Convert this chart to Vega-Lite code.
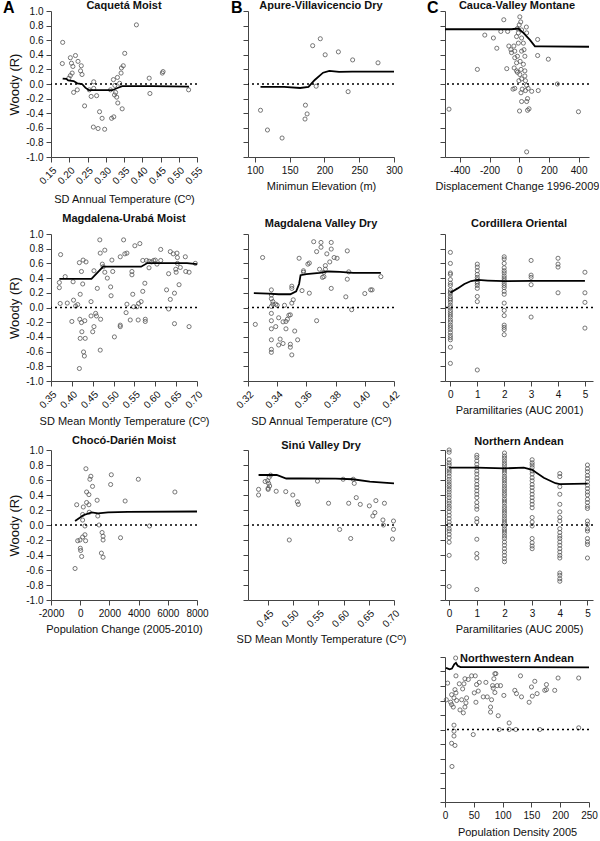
{
"$schema": "https://vega.github.io/schema/vega-lite/v6.json",
"padding": {"left": 3, "top": 0, "right": 0, "bottom": 0},
"config": {
 "font": "Liberation Sans",
 "view": {"stroke": null},
 "axis": {"grid": false, "domainColor": "#444", "tickColor": "#444", "labelColor": "#111", "titleColor": "#111", "labelFontSize": 10, "titleFontSize": 11, "titleFontWeight": "normal", "tickSize": 5, "labelPadding": 3, "titlePadding": 5, "labelFlush": false, "labelOverlap": false, "labelBound": false, "labelExpr": "replace(datum.label, '−', '-')"},
 "title": {"fontSize": 11, "fontWeight": "bold", "anchor": "middle", "frame": "group", "offset": 2, "color": "#111"},
 "point": {"shape": "circle", "filled": false, "size": 17, "stroke": "#555", "strokeWidth": 0.8, "opacity": 1},
 "line": {"color": "black", "strokeWidth": 1.8},
 "rule": {"color": "black", "strokeDash": [2, 3], "strokeWidth": 1.5}
},
"datasets": {
 "a1": [{"x":0.182,"y":0.57},{"x":0.181,"y":0.28},{"x":0.203,"y":0.36},{"x":0.217,"y":0.39},{"x":0.206,"y":0.285},{"x":0.210,"y":0.24},{"x":0.208,"y":0.15},{"x":0.203,"y":0.115},{"x":0.199,"y":0.08},{"x":0.212,"y":-0.115},{"x":0.222,"y":-0.08},{"x":0.224,"y":0.31},{"x":0.233,"y":0.25},{"x":0.231,"y":0.18},{"x":0.235,"y":0.13},{"x":0.242,"y":-0.30},{"x":0.255,"y":-0.08},{"x":0.260,"y":-0.17},{"x":0.267,"y":0.03},{"x":0.267,"y":-0.06},{"x":0.275,"y":-0.16},{"x":0.283,"y":-0.38},{"x":0.290,"y":-0.47},{"x":0.266,"y":-0.59},{"x":0.279,"y":-0.61},{"x":0.297,"y":-0.62},{"x":0.313,"y":-0.08},{"x":0.316,"y":-0.47},{"x":0.322,"y":-0.45},{"x":0.321,"y":0.06},{"x":0.325,"y":-0.02},{"x":0.324,"y":-0.15},{"x":0.330,"y":-0.18},{"x":0.333,"y":-0.26},{"x":0.332,"y":0.09},{"x":0.338,"y":0.01},{"x":0.342,"y":0.15},{"x":0.343,"y":0.22},{"x":0.348,"y":0.25},{"x":0.352,"y":0.42},{"x":0.345,"y":-0.34},{"x":0.327,"y":-0.115},{"x":0.384,"y":0.81},{"x":0.419,"y":0.08},{"x":0.421,"y":-0.13},{"x":0.457,"y":0.17},{"x":0.455,"y":0.15},{"x":0.527,"y":-0.08}],
 "a1f": [{"x":0.182,"y":0.075},{"x":0.192,"y":0.07},{"x":0.197,"y":0.05},{"x":0.212,"y":0.04},{"x":0.222,"y":0.01},{"x":0.235,"y":0.0},{"x":0.244,"y":-0.05},{"x":0.254,"y":-0.085},{"x":0.290,"y":-0.085},{"x":0.318,"y":-0.085},{"x":0.332,"y":-0.055},{"x":0.345,"y":-0.03},{"x":0.382,"y":-0.03},{"x":0.428,"y":-0.03},{"x":0.528,"y":-0.035}],
 "b1": [{"x":108,"y":-0.36},{"x":118,"y":-0.63},{"x":139,"y":-0.74},{"x":172.6,"y":-0.29},{"x":175,"y":-0.41},{"x":172,"y":-0.48},{"x":183,"y":0.525},{"x":194,"y":0.62},{"x":201,"y":0.40},{"x":188,"y":-0.03},{"x":220,"y":0.44},{"x":240.5,"y":0.33},{"x":234,"y":-0.105},{"x":277,"y":0.29}],
 "b1f": [{"x":108,"y":-0.04},{"x":142,"y":-0.04},{"x":165,"y":-0.055},{"x":177,"y":-0.04},{"x":186,"y":0.055},{"x":198,"y":0.155},{"x":207,"y":0.18},{"x":221,"y":0.165},{"x":240,"y":0.17},{"x":300,"y":0.17}],
 "c1": [{"x":-473,"y":-0.345},{"x":-282,"y":0.20},{"x":-232,"y":0.67},{"x":-174,"y":0.63},{"x":-151,"y":0.49},{"x":-124,"y":0.72},{"x":-104,"y":0.88},{"x":-78,"y":0.72},{"x":-84,"y":0.21},{"x":-42,"y":-0.07},{"x":-30,"y":-0.06},{"x":-70,"y":0.52},{"x":-56,"y":0.47},{"x":-52,"y":0.43},{"x":-36,"y":0.52},{"x":-30,"y":0.36},{"x":-18,"y":0.18},{"x":-12,"y":0.16},{"x":-2,"y":0.045},{"x":4,"y":0.92},{"x":10,"y":0.85},{"x":0,"y":0.81},{"x":-12,"y":0.76},{"x":16,"y":0.74},{"x":-18,"y":0.65},{"x":16,"y":0.63},{"x":-6,"y":0.56},{"x":28,"y":0.56},{"x":-30,"y":0.45},{"x":16,"y":0.45},{"x":-12,"y":0.38},{"x":38,"y":0.38},{"x":6,"y":0.31},{"x":28,"y":0.27},{"x":12,"y":0.20},{"x":38,"y":0.18},{"x":4,"y":0.13},{"x":38,"y":0.11},{"x":16,"y":0.07},{"x":42,"y":0.045},{"x":50,"y":-0.02},{"x":60,"y":-0.06},{"x":42,"y":-0.09},{"x":84,"y":-0.10},{"x":12,"y":-0.12},{"x":56,"y":-0.20},{"x":50,"y":-0.24},{"x":16,"y":-0.24},{"x":66,"y":-0.34},{"x":56,"y":-0.36},{"x":2,"y":-0.37},{"x":50,"y":-0.93},{"x":128,"y":-0.09},{"x":124,"y":0.61},{"x":124,"y":0.39},{"x":196,"y":0.34},{"x":257,"y":0.0},{"x":399,"y":-0.38},{"x":48,"y":0.78},{"x":50,"y":0.70},{"x":-6,"y":0.70},{"x":20,"y":-0.07},{"x":-18,"y":0.29},{"x":32,"y":0.47},{"x":-34,"y":0.22}],
 "c1f": [{"x":-500,"y":0.75},{"x":-52,"y":0.75},{"x":-6,"y":0.76},{"x":28,"y":0.70},{"x":72,"y":0.605},{"x":106,"y":0.515},{"x":150,"y":0.515},{"x":470,"y":0.51}],
 "a2": [{"x":0.373,"y":0.72},{"x":0.370,"y":0.34},{"x":0.370,"y":0.27},{"x":0.372,"y":0.055},{"x":0.384,"y":0.42},{"x":0.389,"y":0.06},{"x":0.400,"y":-0.19},{"x":0.403,"y":0.35},{"x":0.404,"y":0.10},{"x":0.409,"y":0.02},{"x":0.414,"y":0.04},{"x":0.418,"y":0.61},{"x":0.427,"y":0.645},{"x":0.434,"y":0.62},{"x":0.423,"y":0.49},{"x":0.420,"y":0.18},{"x":0.426,"y":0.32},{"x":0.419,"y":-0.16},{"x":0.423,"y":-0.205},{"x":0.431,"y":-0.18},{"x":0.420,"y":-0.42},{"x":0.424,"y":-0.33},{"x":0.432,"y":-0.42},{"x":0.428,"y":-0.605},{"x":0.430,"y":-0.66},{"x":0.418,"y":-0.83},{"x":0.446,"y":0.08},{"x":0.446,"y":-0.115},{"x":0.450,"y":-0.33},{"x":0.453,"y":-0.26},{"x":0.457,"y":-0.08},{"x":0.459,"y":-0.115},{"x":0.453,"y":0.50},{"x":0.461,"y":0.26},{"x":0.467,"y":0.92},{"x":0.468,"y":0.74},{"x":0.479,"y":0.78},{"x":0.469,"y":-0.16},{"x":0.468,"y":-0.58},{"x":0.473,"y":0.59},{"x":0.475,"y":0.555},{"x":0.479,"y":0.48},{"x":0.485,"y":0.40},{"x":0.493,"y":0.28},{"x":0.494,"y":0.16},{"x":0.496,"y":0.645},{"x":0.498,"y":0.49},{"x":0.502,"y":-0.40},{"x":0.516,"y":0.69},{"x":0.516,"y":-0.24},{"x":0.516,"y":-0.26},{"x":0.524,"y":0.92},{"x":0.527,"y":0.73},{"x":0.532,"y":0.74},{"x":0.530,"y":-0.07},{"x":0.532,"y":0.045},{"x":0.540,"y":-0.17},{"x":0.544,"y":0.49},{"x":0.544,"y":0.445},{"x":0.546,"y":0.18},{"x":0.548,"y":0.01},{"x":0.551,"y":0.84},{"x":0.556,"y":0.01},{"x":0.559,"y":-0.17},{"x":0.563,"y":0.87},{"x":0.560,"y":0.055},{"x":0.566,"y":0.08},{"x":0.570,"y":0.22},{"x":0.570,"y":0.64},{"x":0.575,"y":0.33},{"x":0.576,"y":-0.16},{"x":0.576,"y":-0.19},{"x":0.579,"y":0.64},{"x":0.585,"y":0.54},{"x":0.585,"y":0.63},{"x":0.591,"y":0.62},{"x":0.596,"y":0.64},{"x":0.600,"y":0.645},{"x":0.604,"y":0.59},{"x":0.613,"y":0.79},{"x":0.613,"y":0.64},{"x":0.627,"y":0.24},{"x":0.632,"y":0.46},{"x":0.632,"y":-0.02},{"x":0.636,"y":0.11},{"x":0.636,"y":0.76},{"x":0.643,"y":0.73},{"x":0.646,"y":0.195},{"x":0.646,"y":-0.22},{"x":0.649,"y":0.52},{"x":0.650,"y":0.48},{"x":0.652,"y":0.74},{"x":0.653,"y":0.68},{"x":0.653,"y":0.60},{"x":0.657,"y":0.31},{"x":0.660,"y":0.545},{"x":0.672,"y":0.69},{"x":0.673,"y":0.49},{"x":0.681,"y":0.48},{"x":0.681,"y":-0.26},{"x":0.696,"y":0.60}],
 "a2f": [{"x":0.370,"y":0.39},{"x":0.447,"y":0.39},{"x":0.475,"y":0.555},{"x":0.566,"y":0.555},{"x":0.581,"y":0.605},{"x":0.676,"y":0.605},{"x":0.70,"y":0.59}],
 "b2": [{"x":0.325,"y":-0.23},{"x":0.330,"y":0.68},{"x":0.336,"y":0.24},{"x":0.336,"y":0.17},{"x":0.336,"y":0.12},{"x":0.337,"y":0.08},{"x":0.336,"y":0.015},{"x":0.337,"y":0.045},{"x":0.339,"y":0.045},{"x":0.340,"y":0.03},{"x":0.336,"y":-0.08},{"x":0.336,"y":-0.18},{"x":0.336,"y":-0.29},{"x":0.339,"y":-0.26},{"x":0.341,"y":-0.14},{"x":0.336,"y":-0.44},{"x":0.336,"y":-0.57},{"x":0.336,"y":-0.61},{"x":0.341,"y":-0.51},{"x":0.342,"y":-0.43},{"x":0.344,"y":-0.49},{"x":0.345,"y":0.03},{"x":0.344,"y":-0.195},{"x":0.346,"y":-0.19},{"x":0.346,"y":-0.29},{"x":0.347,"y":-0.16},{"x":0.348,"y":-0.105},{"x":0.349,"y":-0.10},{"x":0.349,"y":-0.50},{"x":0.349,"y":-0.54},{"x":0.350,"y":-0.645},{"x":0.350,"y":0.06},{"x":0.351,"y":0.105},{"x":0.350,"y":0.29},{"x":0.350,"y":0.26},{"x":0.352,"y":-0.32},{"x":0.354,"y":-0.44},{"x":0.355,"y":0.67},{"x":0.357,"y":0.23},{"x":0.358,"y":0.50},{"x":0.358,"y":0.48},{"x":0.361,"y":0.59},{"x":0.362,"y":0.605},{"x":0.362,"y":0.195},{"x":0.365,"y":0.895},{"x":0.367,"y":-0.18},{"x":0.367,"y":0.76},{"x":0.369,"y":0.52},{"x":0.370,"y":0.885},{"x":0.370,"y":0.82},{"x":0.371,"y":0.41},{"x":0.372,"y":0.42},{"x":0.372,"y":0.48},{"x":0.373,"y":0.52},{"x":0.373,"y":0.57},{"x":0.374,"y":0.73},{"x":0.376,"y":0.62},{"x":0.377,"y":0.885},{"x":0.377,"y":0.795},{"x":0.377,"y":0.26},{"x":0.379,"y":0.68},{"x":0.381,"y":0.67},{"x":0.387,"y":0.145},{"x":0.388,"y":0.77},{"x":0.388,"y":0.385},{"x":0.389,"y":0.485},{"x":0.391,"y":-0.03},{"x":0.400,"y":0.19},{"x":0.404,"y":0.24},{"x":0.405,"y":0.24},{"x":0.411,"y":0.42}],
 "b2f": [{"x":0.324,"y":0.195},{"x":0.334,"y":0.19},{"x":0.341,"y":0.18},{"x":0.349,"y":0.18},{"x":0.353,"y":0.22},{"x":0.355,"y":0.32},{"x":0.356,"y":0.44},{"x":0.360,"y":0.455},{"x":0.369,"y":0.47},{"x":0.375,"y":0.49},{"x":0.383,"y":0.485},{"x":0.392,"y":0.47},{"x":0.411,"y":0.47}],
 "c2": [{"x":0,"y":0.75},{"x":0,"y":0.60},{"x":0,"y":0.47},{"x":0,"y":0.45},{"x":0,"y":0.38},{"x":0,"y":0.33},{"x":0,"y":0.30},{"x":0,"y":0.24},{"x":0,"y":0.21},{"x":0,"y":0.19},{"x":0,"y":0.15},{"x":0,"y":0.12},{"x":0,"y":0.10},{"x":0,"y":0.07},{"x":0,"y":0.03},{"x":0,"y":0.0},{"x":0,"y":-0.04},{"x":0,"y":-0.07},{"x":0,"y":-0.10},{"x":0,"y":-0.13},{"x":0,"y":-0.17},{"x":0,"y":-0.20},{"x":0,"y":-0.24},{"x":0,"y":-0.27},{"x":0,"y":-0.30},{"x":0,"y":-0.34},{"x":0,"y":-0.38},{"x":0,"y":-0.41},{"x":0,"y":-0.44},{"x":0,"y":-0.54},{"x":0,"y":-0.76},
  {"x":1,"y":0.59},{"x":1,"y":0.55},{"x":1,"y":0.50},{"x":1,"y":0.45},{"x":1,"y":0.41},{"x":1,"y":0.38},{"x":1,"y":0.35},{"x":1,"y":0.33},{"x":1,"y":0.30},{"x":1,"y":0.26},{"x":1,"y":0.15},{"x":1,"y":0.08},{"x":1,"y":-0.85},
  {"x":2,"y":0.69},{"x":2,"y":0.66},{"x":2,"y":0.60},{"x":2,"y":0.54},{"x":2,"y":0.50},{"x":2,"y":0.47},{"x":2,"y":0.43},{"x":2,"y":0.40},{"x":2,"y":0.37},{"x":2,"y":0.33},{"x":2,"y":0.30},{"x":2,"y":0.27},{"x":2,"y":0.22},{"x":2,"y":0.18},{"x":2,"y":0.06},{"x":2,"y":-0.04},{"x":2,"y":-0.11},{"x":2,"y":-0.24},{"x":2,"y":-0.27},{"x":2,"y":-0.30},{"x":2,"y":-0.37},
  {"x":3,"y":0.64},{"x":3,"y":0.44},{"x":3,"y":0.41},{"x":3,"y":0.31},{"x":3,"y":-0.13},
  {"x":4,"y":0.67},{"x":4,"y":0.59},{"x":4,"y":0.55},{"x":4,"y":0.20},
  {"x":5,"y":0.48},{"x":5,"y":0.20},{"x":5,"y":0.07},{"x":5,"y":-0.28}],
 "c2f": [{"x":0,"y":0.20},{"x":0.27,"y":0.26},{"x":0.52,"y":0.32},{"x":0.77,"y":0.36},{"x":1.02,"y":0.375},{"x":1.39,"y":0.367},{"x":2.01,"y":0.358},{"x":3,"y":0.362},{"x":4,"y":0.362},{"x":5,"y":0.362}],
 "a3": [{"x":-352,"y":-0.58},{"x":-240,"y":0.27},{"x":-172,"y":-0.21},{"x":-14,"y":-0.20},{"x":9,"y":-0.31},{"x":31,"y":-0.34},{"x":99,"y":-0.42},{"x":167,"y":-0.16},{"x":167,"y":0.14},{"x":167,"y":0.066},{"x":212,"y":0.24},{"x":325,"y":-0.013},{"x":325,"y":-0.13},{"x":370,"y":-0.21},{"x":392,"y":0.75},{"x":438,"y":0.44},{"x":438,"y":0.30},{"x":596,"y":0.27},{"x":596,"y":0.405},{"x":618,"y":0.17},{"x":663,"y":0.61},{"x":731,"y":0.65},{"x":844,"y":0.515},{"x":1160,"y":0.33},{"x":1205,"y":0.12},{"x":1295,"y":0.0},{"x":1498,"y":-0.10},{"x":1566,"y":-0.15},{"x":1566,"y":-0.20},{"x":1453,"y":-0.375},{"x":1566,"y":-0.43},{"x":2130,"y":0.67},{"x":2085,"y":0.54},{"x":2762,"y":-0.17},{"x":3078,"y":0.32},{"x":3981,"y":0.61},{"x":4748,"y":-0.013},{"x":6486,"y":0.44}],
 "a3f": [{"x":-352,"y":0.053},{"x":212,"y":0.13},{"x":776,"y":0.167},{"x":1227,"y":0.154},{"x":1905,"y":0.167},{"x":3259,"y":0.176},{"x":8000,"y":0.18}],
 "b3": [{"x":0.431,"y":0.475},{"x":0.431,"y":0.40},{"x":0.444,"y":0.58},{"x":0.449,"y":0.59},{"x":0.450,"y":0.49},{"x":0.450,"y":0.475},{"x":0.451,"y":0.555},{"x":0.453,"y":0.52},{"x":0.452,"y":0.635},{"x":0.455,"y":0.665},{"x":0.466,"y":0.45},{"x":0.485,"y":0.445},{"x":0.492,"y":-0.20},{"x":0.499,"y":0.40},{"x":0.508,"y":0.31},{"x":0.510,"y":0.275},{"x":0.548,"y":0.585},{"x":0.570,"y":0.29},{"x":0.592,"y":-0.06},{"x":0.599,"y":0.61},{"x":0.610,"y":0.29},{"x":0.614,"y":-0.18},{"x":0.619,"y":0.61},{"x":0.621,"y":0.555},{"x":0.625,"y":0.365},{"x":0.633,"y":0.275},{"x":0.651,"y":0.255},{"x":0.658,"y":0.12},{"x":0.662,"y":0.165},{"x":0.664,"y":0.325},{"x":0.678,"y":0.067},{"x":0.679,"y":0.0},{"x":0.681,"y":0.29},{"x":0.699,"y":0.053},{"x":0.699,"y":-0.058},{"x":0.697,"y":-0.187}],
 "b3f": [{"x":0.431,"y":0.667},{"x":0.467,"y":0.667},{"x":0.486,"y":0.62},{"x":0.515,"y":0.62},{"x":0.584,"y":0.618},{"x":0.618,"y":0.61},{"x":0.652,"y":0.578},{"x":0.679,"y":0.565},{"x":0.70,"y":0.555}],
 "c3": [{"x":0,"y":1.0},{"x":0,"y":0.97},{"x":0,"y":0.87},{"x":0,"y":0.83},{"x":0,"y":0.80},{"x":0,"y":0.75},{"x":0,"y":0.72},{"x":0,"y":0.69},{"x":0,"y":0.65},{"x":0,"y":0.61},{"x":0,"y":0.575},{"x":0,"y":0.54},{"x":0,"y":0.51},{"x":0,"y":0.475},{"x":0,"y":0.44},{"x":0,"y":0.40},{"x":0,"y":0.365},{"x":0,"y":0.32},{"x":0,"y":0.29},{"x":0,"y":0.25},{"x":0,"y":0.22},{"x":0,"y":0.175},{"x":0,"y":0.13},{"x":0,"y":0.085},{"x":0,"y":0.04},{"x":0,"y":0.0},{"x":0,"y":-0.05},{"x":0,"y":-0.08},{"x":0,"y":-0.125},{"x":0,"y":-0.17},{"x":0,"y":-0.23},{"x":0,"y":-0.405},{"x":0,"y":-0.82},
  {"x":1,"y":0.93},{"x":1,"y":0.90},{"x":1,"y":0.855},{"x":1,"y":0.81},{"x":1,"y":0.766},{"x":1,"y":0.72},{"x":1,"y":0.68},{"x":1,"y":0.63},{"x":1,"y":0.59},{"x":1,"y":0.54},{"x":1,"y":0.50},{"x":1,"y":0.455},{"x":1,"y":0.41},{"x":1,"y":0.365},{"x":1,"y":0.30},{"x":1,"y":0.25},{"x":1,"y":0.21},{"x":1,"y":0.085},{"x":1,"y":0.04},{"x":1,"y":-0.19},{"x":1,"y":-0.38},{"x":1,"y":-0.44},{"x":1,"y":-0.86},
  {"x":2,"y":0.96},{"x":2,"y":0.92},{"x":2,"y":0.89},{"x":2,"y":0.855},{"x":2,"y":0.82},{"x":2,"y":0.79},{"x":2,"y":0.75},{"x":2,"y":0.72},{"x":2,"y":0.69},{"x":2,"y":0.65},{"x":2,"y":0.62},{"x":2,"y":0.59},{"x":2,"y":0.556},{"x":2,"y":0.52},{"x":2,"y":0.486},{"x":2,"y":0.455},{"x":2,"y":0.42},{"x":2,"y":0.39},{"x":2,"y":0.35},{"x":2,"y":0.32},{"x":2,"y":0.29},{"x":2,"y":0.25},{"x":2,"y":0.22},{"x":2,"y":0.187},{"x":2,"y":0.156},{"x":2,"y":0.12},{"x":2,"y":0.085},{"x":2,"y":0.053},{"x":2,"y":0.022},{"x":2,"y":-0.013},{"x":2,"y":-0.05},{"x":2,"y":-0.08},{"x":2,"y":-0.11},{"x":2,"y":-0.147},{"x":2,"y":-0.18},{"x":2,"y":-0.227},{"x":2,"y":-0.27},{"x":2,"y":-0.316},{"x":2,"y":-0.36},{"x":2,"y":-0.405},{"x":2,"y":-0.45},{"x":2,"y":-0.49},
  {"x":3,"y":0.87},{"x":3,"y":0.83},{"x":3,"y":0.80},{"x":3,"y":0.766},{"x":3,"y":0.72},{"x":3,"y":0.68},{"x":3,"y":0.63},{"x":3,"y":0.59},{"x":3,"y":0.54},{"x":3,"y":0.50},{"x":3,"y":0.455},{"x":3,"y":0.41},{"x":3,"y":0.365},{"x":3,"y":0.32},{"x":3,"y":0.276},{"x":3,"y":0.23},{"x":3,"y":0.10},{"x":3,"y":0.04},{"x":3,"y":-0.013},{"x":3,"y":-0.18},{"x":3,"y":-0.236},{"x":3,"y":-0.28},{"x":3,"y":-0.316},
  {"x":4,"y":0.686},{"x":4,"y":0.646},{"x":4,"y":0.51},{"x":4,"y":0.41},{"x":4,"y":0.276},{"x":4,"y":0.175},{"x":4,"y":0.10},{"x":4,"y":0.053},{"x":4,"y":-0.05},{"x":4,"y":-0.10},{"x":4,"y":-0.147},{"x":4,"y":-0.18},{"x":4,"y":-0.227},{"x":4,"y":-0.27},{"x":4,"y":-0.316},{"x":4,"y":-0.36},{"x":4,"y":-0.405},{"x":4,"y":-0.44},{"x":4,"y":-0.64},{"x":4,"y":-0.67},{"x":4,"y":-0.717},{"x":4,"y":-0.75},
  {"x":5,"y":0.80},{"x":5,"y":0.75},{"x":5,"y":0.71},{"x":5,"y":0.66},{"x":5,"y":0.62},{"x":5,"y":0.575},{"x":5,"y":0.53},{"x":5,"y":0.486},{"x":5,"y":0.44},{"x":5,"y":0.40},{"x":5,"y":0.343},{"x":5,"y":0.30},{"x":5,"y":0.25},{"x":5,"y":0.22},{"x":5,"y":0.053},{"x":5,"y":0.01},{"x":5,"y":-0.05},{"x":5,"y":-0.08},{"x":5,"y":-0.18},{"x":5,"y":-0.227},{"x":5,"y":-0.26},{"x":5,"y":-0.44}],
 "c3f": [{"x":0,"y":0.766},{"x":1,"y":0.766},{"x":2,"y":0.755},{"x":2.7,"y":0.766},{"x":3,"y":0.735},{"x":3.42,"y":0.63},{"x":3.84,"y":0.557},{"x":4,"y":0.545},{"x":5,"y":0.552}],
 "c4": [{"x":2.3,"y":0.41},{"x":4.6,"y":0.64},{"x":9.8,"y":0.376},{"x":11.5,"y":0.48},{"x":11.5,"y":0.344},{"x":11.5,"y":-0.19},{"x":12.1,"y":-0.51},{"x":14.4,"y":0.31},{"x":15.6,"y":0.436},{"x":15.6,"y":0.06},{"x":15.6,"y":-0.023},{"x":15.6,"y":-0.09},{"x":17.3,"y":0.55},{"x":17.3,"y":-0.22},{"x":18.5,"y":0.986},{"x":19,"y":0.74},{"x":19,"y":0.505},{"x":20.2,"y":0.40},{"x":24.8,"y":0.63},{"x":26,"y":0.27},{"x":28.9,"y":0.41},{"x":30.6,"y":0.56},{"x":31.8,"y":0.23},{"x":32.9,"y":0.63},{"x":34.6,"y":0.70},{"x":34.6,"y":0.31},{"x":36.4,"y":0.367},{"x":37.5,"y":0.436},{"x":40.4,"y":0.69},{"x":46.2,"y":0.74},{"x":49,"y":-0.07},{"x":50.8,"y":0.505},{"x":52.5,"y":0.74},{"x":53.7,"y":0.376},{"x":54.8,"y":0.62},{"x":57.7,"y":0.53},{"x":59.5,"y":0.65},{"x":66.4,"y":0.45},{"x":71,"y":0.65},{"x":73.3,"y":0.45},{"x":79.1,"y":0.31},{"x":79.1,"y":0.24},{"x":80.8,"y":0.41},{"x":82.6,"y":0.605},{"x":83.7,"y":0.57},{"x":84.9,"y":0.70},{"x":86.6,"y":0.77},{"x":88.3,"y":0.77},{"x":90.6,"y":0.605},{"x":86.6,"y":0.51},{"x":92.4,"y":0.19},{"x":94.1,"y":0.0},{"x":96.4,"y":0.605},{"x":102.2,"y":0.47},{"x":111.4,"y":0.09},{"x":111.4,"y":0.0},{"x":121.2,"y":0.54},{"x":123,"y":0.0},{"x":124.1,"y":0.495},{"x":131.1,"y":0.74},{"x":132.8,"y":0.45},{"x":146.1,"y":0.376},{"x":150.1,"y":0.587},{"x":151.6,"y":0.46},{"x":155.9,"y":0.665},{"x":159.9,"y":0.495},{"x":164.5,"y":0.0},{"x":173.2,"y":0.54},{"x":176.1,"y":0.62},{"x":176.1,"y":0.55},{"x":190.5,"y":0.54},{"x":196.3,"y":0.71},{"x":232.1,"y":0.71},{"x":232.1,"y":0.023}],
 "c4f": [{"x":1.7,"y":0.85},{"x":8,"y":0.83},{"x":12,"y":0.84},{"x":16,"y":0.9},{"x":19,"y":0.92},{"x":22,"y":0.88},{"x":27,"y":0.86},{"x":250,"y":0.858}]
},
"vconcat": [
 {"hconcat": [
  {"width": 146, "height": 146, "title": {"text": "Caquetá Moist", "offset": -11}, "layer": [
   {"data": {"name": "a1"}, "mark": "point", "encoding": {"x": {"field": "x", "type": "quantitative", "scale": {"domain": [0.15, 0.55], "nice": false, "zero": false}, "axis": {"values": [0.15,0.2,0.25,0.3,0.35,0.4,0.45,0.5,0.55], "tickCount": 30, "format": ".2f", "labelAngle": -45, "titlePadding": 8, "title": "SD Annual Temperature (Cᴼ)"}}, "y": {"field": "y", "type": "quantitative", "scale": {"domain": [-1, 1], "nice": false}, "axis": {"values": [-1,-0.8,-0.6,-0.4,-0.2,0,0.2,0.4,0.6,0.8,1], "tickCount": 30, "format": ".1f", "title": "Woody (R)", "titleFontSize": 13, "titlePadding": 4}}}},
   {"data": {"name": "a1f"}, "mark": "line", "encoding": {"x": {"field": "x", "type": "quantitative"}, "y": {"field": "y", "type": "quantitative"}}},
   {"data": {"values": [{"y": 0}]}, "mark": "rule", "encoding": {"y": {"field": "y", "type": "quantitative"}}},
   {"data": {"values": [{"panel": "A"}]}, "mark": {"type": "text", "fontSize": 16, "fontWeight": "bold", "align": "left", "baseline": "alphabetic", "dx": -48, "dy": 2}, "encoding": {"text": {"field": "panel"}, "x": {"datum": 0.15}, "y": {"datum": 1}}}
  ]},
  {"width": 146, "height": 146, "title": {"text": "Apure-Villavicencio Dry", "offset": -11}, "layer": [
   {"data": {"name": "b1"}, "mark": "point", "encoding": {"x": {"field": "x", "type": "quantitative", "scale": {"domain": [90, 300], "nice": false, "zero": false}, "axis": {"values": [100,150,200,250,300], "tickCount": 30, "title": "Minimun Elevation (m)"}}, "y": {"field": "y", "type": "quantitative", "scale": {"domain": [-1, 1], "nice": false}, "axis": {"values": [-1,-0.8,-0.6,-0.4,-0.2,0,0.2,0.4,0.6,0.8,1], "tickCount": 30, "labels": false, "title": null}}}},
   {"data": {"name": "b1f"}, "mark": "line", "encoding": {"x": {"field": "x", "type": "quantitative"}, "y": {"field": "y", "type": "quantitative"}}},
   {"data": {"values": [{"y": 0}]}, "mark": "rule", "encoding": {"y": {"field": "y", "type": "quantitative"}}},
   {"data": {"values": [{"panel": "B"}]}, "mark": {"type": "text", "fontSize": 16, "fontWeight": "bold", "align": "left", "baseline": "alphabetic", "dx": -17, "dy": 2}, "encoding": {"text": {"field": "panel"}, "x": {"datum": 90}, "y": {"datum": 1}}}
  ]},
  {"width": 144, "height": 146, "title": {"text": "Cauca-Valley Montane", "offset": -11}, "layer": [
   {"data": {"name": "c1"}, "mark": "point", "encoding": {"x": {"field": "x", "type": "quantitative", "scale": {"domain": [-500, 470], "nice": false, "zero": false}, "axis": {"values": [-400,-200,0,200,400], "tickCount": 30, "title": "Displacement Change 1996-2009"}}, "y": {"field": "y", "type": "quantitative", "scale": {"domain": [-1, 1], "nice": false}, "axis": {"values": [-1,-0.8,-0.6,-0.4,-0.2,0,0.2,0.4,0.6,0.8,1], "tickCount": 30, "labels": false, "title": null}}}},
   {"data": {"name": "c1f"}, "mark": "line", "encoding": {"x": {"field": "x", "type": "quantitative"}, "y": {"field": "y", "type": "quantitative"}}},
   {"data": {"values": [{"y": 0}]}, "mark": "rule", "encoding": {"y": {"field": "y", "type": "quantitative"}}},
   {"data": {"values": [{"panel": "C"}]}, "mark": {"type": "text", "fontSize": 16, "fontWeight": "bold", "align": "left", "baseline": "alphabetic", "dx": -18, "dy": 2}, "encoding": {"text": {"field": "panel"}, "x": {"datum": -500}, "y": {"datum": 1}}}
  ]}
 ], "spacing": 51, "bounds": "flush"},
 {"hconcat": [
  {"width": 146, "height": 147, "title": {"text": "Magdalena-Urabá Moist", "offset": 5}, "layer": [
   {"data": {"name": "a2"}, "mark": "point", "encoding": {"x": {"field": "x", "type": "quantitative", "scale": {"domain": [0.35, 0.70], "nice": false, "zero": false}, "axis": {"values": [0.35,0.4,0.45,0.5,0.55,0.6,0.65,0.7], "tickCount": 30, "format": ".2f", "labelAngle": -45, "titlePadding": 6, "title": "SD Mean Montly Temperature (Cᴼ)"}}, "y": {"field": "y", "type": "quantitative", "scale": {"domain": [-1, 1], "nice": false}, "axis": {"values": [-1,-0.8,-0.6,-0.4,-0.2,0,0.2,0.4,0.6,0.8,1], "tickCount": 30, "format": ".1f", "title": "Woody (R)", "titleFontSize": 13, "titlePadding": 4}}}},
   {"data": {"name": "a2f"}, "mark": "line", "encoding": {"x": {"field": "x", "type": "quantitative"}, "y": {"field": "y", "type": "quantitative"}}},
   {"data": {"values": [{"y": 0}]}, "mark": "rule", "encoding": {"y": {"field": "y", "type": "quantitative"}}}
  ]},
  {"width": 146, "height": 147, "title": {"text": "Magdalena Valley Dry", "offset": 5}, "layer": [
   {"data": {"name": "b2"}, "mark": "point", "encoding": {"x": {"field": "x", "type": "quantitative", "scale": {"domain": [0.32, 0.42], "nice": false, "zero": false}, "axis": {"values": [0.32,0.34,0.36,0.38,0.4,0.42], "tickCount": 30, "format": ".2f", "labelAngle": -45, "titlePadding": 6, "title": "SD Annual Temperature (Cᴼ)"}}, "y": {"field": "y", "type": "quantitative", "scale": {"domain": [-1, 1], "nice": false}, "axis": {"values": [-1,-0.8,-0.6,-0.4,-0.2,0,0.2,0.4,0.6,0.8,1], "tickCount": 30, "labels": false, "title": null}}}},
   {"data": {"name": "b2f"}, "mark": "line", "encoding": {"x": {"field": "x", "type": "quantitative"}, "y": {"field": "y", "type": "quantitative"}}},
   {"data": {"values": [{"y": 0}]}, "mark": "rule", "encoding": {"y": {"field": "y", "type": "quantitative"}}}
  ]},
  {"width": 148, "height": 147, "title": {"text": "Cordillera Oriental", "offset": 5}, "layer": [
   {"data": {"name": "c2"}, "mark": "point", "encoding": {"x": {"field": "x", "type": "quantitative", "scale": {"domain": [-0.2, 5.3], "nice": false, "zero": false}, "axis": {"values": [0,1,2,3,4,5], "tickCount": 30, "format": "d", "title": "Paramilitaries (AUC 2001)"}}, "y": {"field": "y", "type": "quantitative", "scale": {"domain": [-1, 1], "nice": false}, "axis": {"values": [-1,-0.8,-0.6,-0.4,-0.2,0,0.2,0.4,0.6,0.8,1], "tickCount": 30, "labels": false, "title": null}}}},
   {"data": {"name": "c2f"}, "mark": "line", "encoding": {"x": {"field": "x", "type": "quantitative"}, "y": {"field": "y", "type": "quantitative"}}},
   {"data": {"values": [{"y": 0}]}, "mark": "rule", "encoding": {"y": {"field": "y", "type": "quantitative"}}}
  ]}
 ], "spacing": 51, "bounds": "flush"},
 {"hconcat": [
  {"width": 146, "height": 150, "title": {"text": "Chocó-Darién Moist", "offset": -1}, "layer": [
   {"data": {"name": "a3"}, "mark": "point", "encoding": {"x": {"field": "x", "type": "quantitative", "scale": {"domain": [-2000, 8000], "nice": false, "zero": false}, "axis": {"values": [-2000,0,2000,4000,6000,8000], "tickCount": 30, "format": "d", "title": "Population Change (2005-2010)"}}, "y": {"field": "y", "type": "quantitative", "scale": {"domain": [-1, 1], "nice": false}, "axis": {"values": [-1,-0.8,-0.6,-0.4,-0.2,0,0.2,0.4,0.6,0.8,1], "tickCount": 30, "format": ".1f", "title": "Woody (R)", "titleFontSize": 13, "titlePadding": 4}}}},
   {"data": {"name": "a3f"}, "mark": "line", "encoding": {"x": {"field": "x", "type": "quantitative"}, "y": {"field": "y", "type": "quantitative"}}},
   {"data": {"values": [{"y": 0}]}, "mark": "rule", "encoding": {"y": {"field": "y", "type": "quantitative"}}}
  ]},
  {"width": 146, "height": 150, "title": {"text": "Sinú Valley Dry", "offset": -1}, "layer": [
   {"data": {"name": "b3"}, "mark": "point", "encoding": {"x": {"field": "x", "type": "quantitative", "scale": {"domain": [0.41, 0.70], "nice": false, "zero": false}, "axis": {"values": [0.45,0.5,0.55,0.6,0.65,0.7], "tickCount": 30, "format": ".2f", "labelAngle": -45, "title": "SD Mean Montly Temperature (Cᴼ)"}}, "y": {"field": "y", "type": "quantitative", "scale": {"domain": [-1, 1], "nice": false}, "axis": {"values": [-1,-0.8,-0.6,-0.4,-0.2,0,0.2,0.4,0.6,0.8,1], "tickCount": 30, "labels": false, "title": null}}}},
   {"data": {"name": "b3f"}, "mark": "line", "encoding": {"x": {"field": "x", "type": "quantitative"}, "y": {"field": "y", "type": "quantitative"}}},
   {"data": {"values": [{"y": 0}]}, "mark": "rule", "encoding": {"y": {"field": "y", "type": "quantitative"}}}
  ]},
  {"width": 148, "height": 150, "title": {"text": "Northern Andean", "offset": -1}, "layer": [
   {"data": {"name": "c3"}, "mark": "point", "encoding": {"x": {"field": "x", "type": "quantitative", "scale": {"domain": [-0.15, 5.2], "nice": false, "zero": false}, "axis": {"values": [0,1,2,3,4,5], "tickCount": 30, "format": "d", "title": "Paramilitaries (AUC 2005)"}}, "y": {"field": "y", "type": "quantitative", "scale": {"domain": [-1, 1], "nice": false}, "axis": {"values": [-1,-0.8,-0.6,-0.4,-0.2,0,0.2,0.4,0.6,0.8,1], "tickCount": 30, "labels": false, "title": null}}}},
   {"data": {"name": "c3f"}, "mark": "line", "encoding": {"x": {"field": "x", "type": "quantitative"}, "y": {"field": "y", "type": "quantitative"}}},
   {"data": {"values": [{"y": 0}]}, "mark": "rule", "encoding": {"y": {"field": "y", "type": "quantitative"}}}
  ]}
 ], "spacing": 51, "bounds": "flush"},
 {"hconcat": [
  {"width": 146, "height": 20, "data": {"values": []}, "mark": {"type": "point", "opacity": 0}},
  {"width": 146, "height": 20, "data": {"values": []}, "mark": {"type": "point", "opacity": 0}},
  {"width": 144, "height": 145, "title": {"text": "Northwestern Andean", "offset": -10}, "layer": [
   {"data": {"name": "c4"}, "mark": "point", "encoding": {"x": {"field": "x", "type": "quantitative", "scale": {"domain": [0, 250], "nice": false, "zero": false}, "axis": {"values": [0,50,100,150,200,250], "tickCount": 30, "format": "d", "titlePadding": 6, "title": "Population Density 2005"}}, "y": {"field": "y", "type": "quantitative", "scale": {"domain": [-1, 1], "nice": false}, "axis": {"values": [-1,-0.8,-0.6,-0.4,-0.2,0,0.2,0.4,0.6,0.8,1], "tickCount": 30, "labels": false, "title": null}}}},
   {"data": {"name": "c4f"}, "mark": "line", "encoding": {"x": {"field": "x", "type": "quantitative"}, "y": {"field": "y", "type": "quantitative"}}},
   {"data": {"values": [{"y": 0}]}, "mark": "rule", "encoding": {"y": {"field": "y", "type": "quantitative"}}}
  ]}
 ], "spacing": 51, "bounds": "flush"}
],
"spacing": 8
}
